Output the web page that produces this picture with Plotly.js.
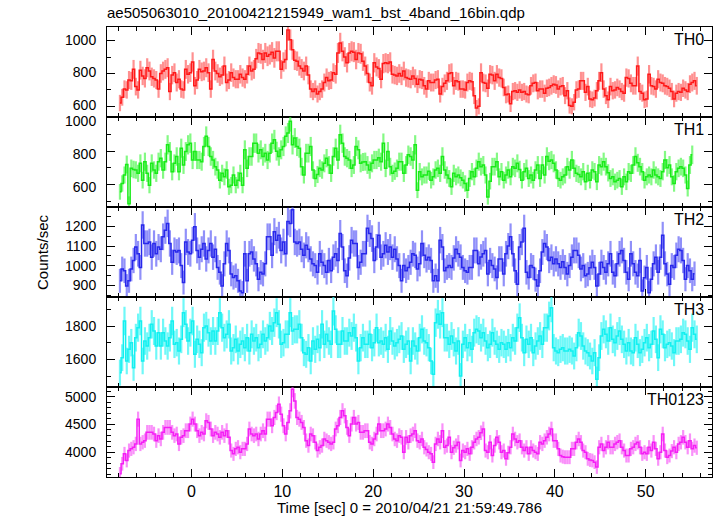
<!DOCTYPE html>
<html><head><meta charset="utf-8">
<script src="https://cdn.plot.ly/plotly-3.0.1.min.js"></script>
<style>html,body{margin:0;padding:0;background:#fff}#chart{width:717px;height:516px}</style>
</head><body><div id="chart"></div>
<script>
const chartTitle = 'ae505063010_20100421215949_wam1_bst_4band_16bin.qdp';
const xTitle = 'Time [sec] 0 = 2010/04/21 21:59:49.786';
const yTitle = 'Counts/sec';
const bandLabels = ['TH0', 'TH1', 'TH2', 'TH3', 'TH0123'];
const binSec = 0.25;      // 16 bins of 1/64 s
const tStart = -7.875;    // centre of first bin

const th0 = [
620,655,705,700,760,755,825,720,700,820,785,770,835,815,780,770,760,705,800,815,825,835,690,790,805,745,765,705,700,825,795,805,
870,725,760,825,810,815,835,805,705,885,815,800,780,790,845,745,760,805,775,765,765,795,775,765,795,845,815,825,890,925,920,885,
925,905,915,930,895,935,935,825,870,885,1065,1005,945,880,875,845,830,815,845,790,705,690,705,675,690,705,745,775,755,760,805,795,
925,985,935,900,865,925,935,930,885,925,920,875,845,800,745,725,865,840,830,765,860,865,860,870,795,790,785,800,
785,815,775,770,765,785,770,735,765,760,725,705,755,745,745,760,765,675,720,740,755,800,805,725,
755,750,705,705,700,745,755,750,665,590,600,805,745,740,710,795,790,755,795,775,770,715,670,675,
615,690,695,685,700,685,690,675,670,725,740,745,695,705,705,680,710,715,725,735,730,705,720,725,
665,695,605,600,625,700,705,755,755,685,720,645,640,650,695,755,805,705,665,640,720,695,700,715,
705,690,680,775,770,740,725,725,845,690,680,640,645,795,725,720,705,765,745,740,725,720,710,690,
645,680,690,685,710,700,690,735,745,755,725];

const th1 = [
556,606,657,720,485,697,690,687,667,727,626,737,667,596,727,687,667,737,758,687,
737,838,798,677,727,768,677,818,717,798,838,848,747,798,747,747,737,828,889,828,
768,747,707,687,626,667,646,687,586,596,657,596,626,667,596,808,697,768,768,848,
848,788,808,768,788,747,788,848,869,800,768,808,828,889,909,980,838,879,828,818,
707,657,788,788,828,687,636,660,697,687,727,758,717,667,768,818,747,899,848,768,
758,747,697,717,828,808,727,735,737,717,687,727,747,747,760,737,848,697,798,707,
667,680,697,737,
737,667,717,778,768,747,838,566,677,646,657,657,680,626,646,687,697,667,768,687,657,636,586,667,646,657,
640,626,606,566,636,677,646,697,737,707,717,657,525,620,707,707,737,646,677,626,657,687,646,707,697,727,
690,626,677,697,636,657,626,687,717,636,717,657,768,740,747,727,687,636,626,646,657,707,687,747,697,667,
660,646,677,616,667,626,687,677,616,717,707,737,707,670,636,646,616,626,636,586,646,616,677,667,717,768,
730,707,677,626,646,657,646,687,657,646,636,677,747,700,717,646,606,677,697,707,697,657,576,717,778];

const th2 = [
924,984,975,898,924,984,1027,1095,1061,992,1207,1113,1113,1121,1044,1113,1061,1095,1084,1147,1180,
1215,1113,1018,1078,1070,1078,1001,915,1121,1070,1061,1130,1198,1078,1044,1084,1113,1035,1078,1113,
1044,1084,992,967,898,1010,1113,1078,958,941,950,924,872,864,1061,924,1061,1070,1035,1010,
932,967,958,1010,1147,1147,1053,1173,1130,1155,1078,1121,1061,1224,1215,1284,1121,1113,1121,1084,
1053,1104,1084,1035,1010,1001,967,1061,1018,1001,967,1027,975,1044,1061,1027,1164,1095,975,950,1040,
1130,1113,1113,992,1018,1061,1061,1190,1164,1138,1027,1095,1155,1044,1061,1104,1070,1095,1044,1084,1035,1001,
924,1001,975,992,1018,1061,1053,984,1010,1113,1053,1030,1044,1027,924,950,924,1130,1095,975,992,
1001,992,1040,1084,1061,1044,992,975,967,992,992,1078,1078,1010,1045,1061,1078,958,1027,1001,984,941,
1035,1035,958,1061,1100,1147,1061,975,907,1095,1121,1190,967,941,1001,992,930,898,975,1070,1113,1095,
1027,1044,1010,1035,1010,992,1020,992,958,1001,1044,1078,1078,1053,984,1001,950,958,990,1018,992,898,
958,1018,992,967,1010,1061,967,950,1010,1061,1078,1027,967,932,1061,1010,967,950,1027,872,940,992,
864,932,1010,1044,967,1044,1155,1010,958,907,1001,992,1053,1084,1078,1027,932,1001,975,932,960];

const th3 = [
1520,1610,1830,1590,1660,1700,1550,1730,1790,1830,1590,1710,1680,1730,1810,1770,1680,1760,1680,1760,
1710,1680,1730,1830,1690,1700,1650,1720,1880,1810,1710,1760,1830,1630,1720,1690,1640,1790,1800,1760,
1710,1770,1710,1770,1880,1790,1730,1750,1810,1650,1670,1720,1650,1690,1710,1670,1730,1650,1750,1710,
1730,1670,1690,1750,1710,1730,1800,1770,1820,1880,1810,1690,1700,1750,1750,1880,1770,1780,1780,1810,
1730,1640,1630,1670,1590,1710,1660,1720,1670,1810,1690,1750,1710,1690,1890,1780,1690,1690,1770,1710,
1710,1760,1740,1790,1730,1590,1670,1730,1690,1690,1750,1670,1700,1790,1700,1710,1690,1730,1660,1770,
1710,1680,1700,1720,
1740,1660,1690,1710,1590,1710,1680,1650,1730,1780,1710,1700,
1670,1590,1510,1820,1870,1810,1880,1730,1730,1690,1740,1700,
1650,1710,1500,1690,1730,1670,1700,1660,1760,1780,1770,1730,
1760,1710,1670,1690,1760,1710,1690,1660,1700,1690,1660,1700,
1670,1730,1710,1790,1850,1730,1640,1720,1690,1730,1640,1680,
1710,1740,1690,1790,1790,1860,1910,1670,1650,1640,1660,1670,
1650,1650,1660,1650,1620,1670,1760,1740,1680,1650,1640,1620,
1590,1640,1480,1610,1740,1780,1750,1710,1790,1720,1700,1740,
1770,1720,1690,1650,1700,1650,1640,1730,1690,1640,1660,1700,
1730,1670,1690,1770,1720,1610,1780,1750,1670,1690,1700,1680,
1640,1710,1710,1720,1760,1750,1710,1660,1790,1750,1720];

const th0123 = [
3613,3792,3970,3851,4030,4060,4089,4149,4595,4149,4179,4208,4357,4357,4357,4327,4208,4298,4238,4357,
4446,4446,4446,4357,4298,4327,4149,4268,4298,4387,4387,4506,4595,4506,4387,4298,4357,4327,4565,4536,
4417,4298,4357,4327,4268,4357,4298,4387,4268,4030,3970,4060,4089,4000,4060,4060,4149,4417,4327,4298,
4327,4238,4327,4387,4327,4595,4595,4476,4625,4714,4863,4684,4476,4327,4536,4744,5131,4923,4625,4595,
4536,4446,4208,4119,4327,4298,4179,4030,4089,4119,4238,4208,4179,4149,4179,4417,4476,4625,4744,4655,
4446,4298,4506,4625,4506,4536,4357,4357,4387,4387,4179,4149,4238,4327,4506,4387,4387,4417,4506,4446,
4327,4238,4208,4298,
4268,4000,4268,4179,4298,4327,4387,4208,4179,4238,4089,4050,
4000,3970,3821,4149,4238,4179,4387,4089,4119,4268,4000,4080,
4119,4179,3851,4030,4000,4060,3970,4089,4179,4238,4268,4350,
4417,4030,4000,4179,3940,4119,4268,4179,4000,4030,3881,3990,
4089,4327,4238,4179,4208,4089,4030,4089,3970,4089,4030,4000,
3970,4179,4149,4208,4268,4327,4417,4208,4208,4060,3940,3920,
3910,3910,3910,4060,4060,4179,4238,4179,4030,4000,3881,3860,
3851,3821,3732,4089,4149,4030,4089,4179,4089,4089,4149,4180,
4208,4089,4030,3940,3940,4060,4089,4149,4179,4089,3970,4000,
3970,4089,4030,4179,4060,3881,4000,4327,4030,3910,3940,4020,
4089,4000,4149,4179,4268,4179,4089,4208,4060,4119,4080];

const series = [th0, th1, th2, th3, th0123];

// ---- styling ----
const lineColors = ['rgb(255,25,25)', 'rgb(25,235,25)', 'rgb(40,40,235)', 'rgb(20,240,240)', 'rgb(245,30,245)'];
const errColors = ['rgba(255,70,70,0.6)', 'rgba(50,245,50,0.6)', 'rgba(70,70,245,0.6)', 'rgba(50,245,245,0.7)', 'rgba(245,70,245,0.6)'];
const yRanges = [[535, 1083], [465, 1005], [842, 1298], [1434, 1974], [3554, 5173]];
const yDticks = [200, 200, 100, 200, 500];
const yMinor = [100, 100, 50, 100, 100];
const yLabelShift = [-1, 3, 0, 0, 0];
const xRange = [-9.3, 57.3];
const FONT = '"Liberation Sans", Arial, Helvetica, sans-serif';

const traces = [];
const layout = {
  width: 717, height: 516,
  margin: {l: 107, r: 5, t: 27, b: 39},
  paper_bgcolor: '#fff', plot_bgcolor: '#fff',
  showlegend: false,
  font: {family: FONT, size: 15, color: '#000'},
  title: {text: chartTitle, x: 107 / 717, xanchor: 'left', xref: 'container',
          y: 1 - 13 / 516, yanchor: 'middle', yref: 'container',
          font: {family: FONT, size: 15, color: '#000'}},
  annotations: []
};

series.forEach((vals, i) => {
  const n = i + 1;
  const xk = n === 1 ? 'x' : 'x' + n;
  const yk = n === 1 ? 'y' : 'y' + n;
  const time = vals.map((_, j) => tStart + j * binSec);
  const errs = vals.map(v => Math.sqrt(v * binSec) / binSec);
  traces.push({
    type: 'scatter', mode: 'lines', x: time, y: vals, xaxis: xk, yaxis: yk,
    line: {shape: 'hvh', color: lineColors[i], width: 1.5},
    error_y: {type: 'data', array: errs, visible: true, color: errColors[i], thickness: 2.2, width: 0},
    hoverinfo: 'skip'
  });
  const top = 1 - i * 0.2, bot = 1 - (i + 1) * 0.2;
  layout[n === 1 ? 'xaxis' : 'xaxis' + n] = {
    domain: [0, 1], anchor: yk, range: xRange, matches: n === 1 ? undefined : 'x',
    showline: true, linecolor: '#000', linewidth: 1, mirror: 'ticks',
    ticks: 'inside', ticklen: 8, tickcolor: '#000', tickwidth: 1, dtick: 10, tick0: 0,
    minor: {ticks: 'inside', ticklen: 4, dtick: 2, tick0: 0, tickcolor: '#000', showgrid: false},
    showticklabels: i === 4, tickfont: {family: FONT, size: 16, color: '#000'},
    showgrid: false, zeroline: false, fixedrange: true
  };
  layout[n === 1 ? 'yaxis' : 'yaxis' + n] = {
    domain: [bot, top], anchor: xk, range: yRanges[i],
    showline: true, linecolor: '#000', linewidth: 1, mirror: 'ticks',
    ticks: 'inside', ticklen: 8, tickcolor: '#000', tickwidth: 1, dtick: yDticks[i], tick0: 0,
    minor: {ticks: 'inside', ticklen: 4, dtick: yMinor[i], tick0: 0, tickcolor: '#000', showgrid: false},
    tickfont: {family: FONT, size: 14, color: '#000'}, ticklabelstandoff: 7,
    ticklabelshift: yLabelShift[i],
    showgrid: false, zeroline: false, fixedrange: true
  };
  layout.annotations.push({
    text: bandLabels[i], xref: 'paper', yref: 'paper', x: 1, y: top,
    xanchor: 'right', yanchor: 'top', xshift: -6, yshift: -2, showarrow: false,
    font: {family: FONT, size: 16, color: '#000'}
  });
});

layout.annotations.push({
  text: yTitle, xref: 'paper', yref: 'paper', x: (42 - 107) / 605, y: 0.5,
  xanchor: 'center', yanchor: 'middle', textangle: -90, showarrow: false,
  font: {family: FONT, size: 15, color: '#000'}
});
layout.annotations.push({
  text: xTitle, xref: 'paper', yref: 'paper', x: 0.5, y: -(507 - 477) / 450,
  xanchor: 'center', yanchor: 'middle', showarrow: false,
  font: {family: FONT, size: 15, color: '#000'}
});

Plotly.newPlot('chart', traces, layout, {staticPlot: true, displayModeBar: false});
</script></body></html>
